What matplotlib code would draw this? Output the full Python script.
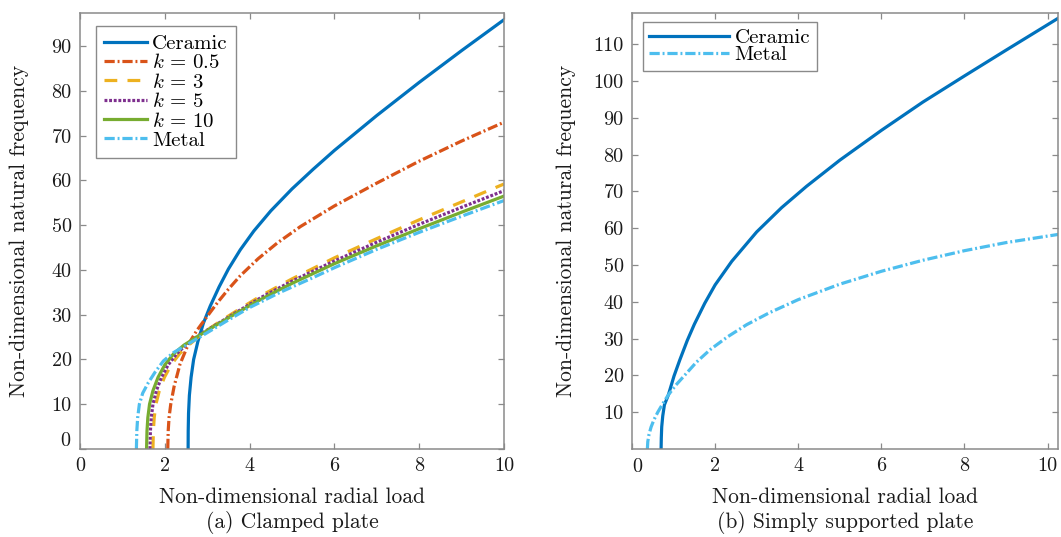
import matplotlib
matplotlib.use('Agg')
import matplotlib.pyplot as plt

plt.rcParams['font.family'] = ['cmr10', 'DejaVu Serif']
plt.rcParams['mathtext.fontset'] = 'cm'
plt.rcParams['axes.formatter.use_mathtext'] = True

# ---------------- data: (a) clamped plate ----------------
a_ceramic_x = [2.55, 2.552, 2.56, 2.58, 2.62, 2.68, 2.78, 2.91, 3.07, 3.28, 3.5, 3.78, 4.1, 4.5, 5.0, 5.5, 6.0, 7.0, 8.0, 9.0, 10.0]
a_ceramic_y = [0, 4, 8, 12, 16, 20, 24, 28.1, 31.9, 36.2, 40.2, 44.5, 48.7, 53.2, 58.1, 62.5, 66.7, 74.5, 81.9, 89.0, 95.9]

a_k05_x = [2.07, 2.08, 2.10, 2.14, 2.22, 2.36, 2.55, 2.75, 2.95, 3.25, 3.5, 3.78, 4.2, 4.65, 5.2, 6.0, 7.0, 8.0, 9.0, 10.0]
a_k05_y = [0, 4, 7, 10, 14, 19, 23.3, 26.4, 29.0, 32.8, 35.7, 38.7, 42.5, 46.0, 49.7, 54.3, 59.4, 64.3, 68.8, 73.0]

a_k3_x = [1.72, 1.73, 1.75, 1.79, 1.87, 1.99, 2.15, 2.35, 2.60, 2.90, 3.30, 3.80, 4.30, 5.00, 6.00, 7.00, 8.00, 9.00, 10.0]
a_k3_y = [0, 4, 7, 10, 13, 16, 18.8, 21.3, 23.5, 25.9, 28.5, 31.5, 34.4, 38.0, 42.7, 47.0, 51.2, 55.2, 59.2]

a_k5_x = [1.65, 1.66, 1.68, 1.72, 1.80, 1.92, 2.08, 2.28, 2.52, 2.85, 3.25, 3.75, 4.30, 5.00, 6.00, 7.00, 8.00, 9.00, 10.0]
a_k5_y = [0, 4, 7, 10, 13, 16, 18.8, 21.3, 23.4, 25.7, 28.0, 30.9, 34.0, 37.5, 42.0, 46.2, 50.2, 54.0, 57.7]

a_k10_x = [1.57, 1.58, 1.60, 1.64, 1.72, 1.84, 2.00, 2.20, 2.45, 2.80, 3.20, 3.70, 4.30, 5.00, 6.00, 7.00, 8.00, 9.00, 10.0]
a_k10_y = [0, 4, 7, 10, 13, 16, 18.8, 21.2, 23.2, 25.3, 27.6, 30.4, 33.6, 37.0, 41.4, 45.4, 49.2, 52.9, 56.5]

a_metal_x = [1.33, 1.34, 1.36, 1.40, 1.48, 1.61, 1.78, 1.97, 2.20, 2.52, 2.95, 3.46, 4.00, 4.72, 5.50, 6.00, 7.00, 8.00, 9.00, 10.0]
a_metal_y = [0, 4, 7, 10, 12.5, 14.8, 17.3, 19.7, 21.5, 23.3, 25.7, 28.6, 31.6, 35.0, 38.3, 40.5, 44.6, 48.4, 52.0, 55.5]

# ---------------- data: (b) simply supported plate ----------------
b_ceramic_x = [0.70, 0.705, 0.715, 0.74, 0.78, 0.875, 1.01, 1.15, 1.33, 1.5, 1.75, 2.0, 2.4, 3.0, 3.6, 4.2, 5.0, 6.0, 7.0, 8.0, 9.0, 10.3]
b_ceramic_y = [0, 3, 6, 9, 12, 14.7, 19.8, 24.2, 29.5, 33.9, 39.6, 44.6, 51.0, 59.0, 65.6, 71.4, 78.5, 86.6, 94.3, 101.4, 108.4, 117.4]

b_metal_x = [0.37, 0.38, 0.41, 0.46, 0.53, 0.62, 0.74, 0.875, 1.05, 1.28, 1.55, 1.88, 2.3, 2.76, 3.3, 4.0, 5.0, 6.0, 7.0, 8.0, 9.0, 10.3]
b_metal_y = [0, 2, 4, 6, 8, 10, 12.3, 14.7, 17.3, 20.2, 23.6, 27.0, 30.5, 33.8, 37.0, 40.6, 44.8, 48.3, 51.3, 53.9, 56.1, 58.4]

a_labels = ['Ceramic', r'$k\,=\,0.5$', r'$k\,=\,3$', r'$k\,=\,5$', r'$k\,=\,10$', 'Metal']
b_labels = ['Ceramic', 'Metal']
a_xticks = [0, 2, 4, 6, 8, 10]
a_yticks = [0, 10, 20, 30, 40, 50, 60, 70, 80, 90]
b_xticks = [0, 2, 4, 6, 8, 10]
b_yticks = [10, 20, 30, 40, 50, 60, 70, 80, 90, 100, 110]

xlabel = 'Non-dimensional radial load'
ylabel = 'Non-dimensional natural frequency'
cap_a = '(a) Clamped plate'
cap_b = '(b) Simply supported plate'

# ---------------- styling ----------------
C_CER = '#0072BD'
C_K05 = '#D95319'
C_K3 = '#EDB120'
C_K5 = '#7E2F8E'
C_K10 = '#77AC30'
C_MET = '#4DBEEE'
LW = 2.3
FS_TICK = 14.5
FS_LEG = 15
FS_LAB = 15.5
GRAY = '#8a8a8a'
TXT = '#1a1a1a'

W, H = 1061, 537
fig = plt.figure(figsize=(W / 100, H / 100), dpi=100)
axL = fig.add_axes([80 / W, 1 - 449 / H, 424 / W, 436 / H])
axR = fig.add_axes([632 / W, 1 - 449 / H, 426 / W, 436 / H])


def style(ax):
    for s in ax.spines.values():
        s.set_color(GRAY)
        s.set_linewidth(1.1)
    ax.tick_params(direction='in', length=4, width=0.9, color=GRAY,
                   labelcolor=TXT, labelsize=FS_TICK, top=True, right=True, pad=6)


dd = (3.2, 0.9, 0.6, 0.9)      # dash-dot (scaled by lw)
dsh = (4.0, 3.2)               # long dashes
dot = (0.9, 0.55)              # dotted

axL.plot(a_ceramic_x, a_ceramic_y, color=C_CER, lw=LW, label=a_labels[0])
axL.plot(a_k05_x, a_k05_y, color=C_K05, lw=LW, dashes=dd, label=a_labels[1])
axL.plot(a_k3_x, a_k3_y, color=C_K3, lw=LW, dashes=dsh, label=a_labels[2])
axL.plot(a_k5_x, a_k5_y, color=C_K5, lw=LW, dashes=dot, label=a_labels[3])
axL.plot(a_k10_x, a_k10_y, color=C_K10, lw=LW, label=a_labels[4])
axL.plot(a_metal_x, a_metal_y, color=C_MET, lw=LW, dashes=dd, label=a_labels[5])

axL.set_xlim(0, 10)
axL.set_ylim(0, 97.4)
axL.set_xticks(a_xticks)
axL.set_xticklabels([str(v) for v in a_xticks])
axL.set_yticks(a_yticks)
axL.set_yticklabels([''] + [str(v) for v in a_yticks[1:]])
style(axL)
axL.text(-0.022, 1.8 / 97.4, '0', transform=axL.transAxes, ha='right', va='center',
         fontsize=FS_TICK, color=TXT)
legL = axL.legend(loc='upper left', bbox_to_anchor=(16 / 424, 1 - 13 / 436), borderaxespad=0,
                  fontsize=FS_LEG, handlelength=2.05, handletextpad=0.25, labelspacing=0.02,
                  borderpad=0.4, fancybox=False, edgecolor=GRAY, framealpha=1)
legL.get_frame().set_linewidth(1.0)

axR.plot(b_ceramic_x, b_ceramic_y, color=C_CER, lw=LW, label=b_labels[0])
axR.plot(b_metal_x, b_metal_y, color=C_MET, lw=LW, dashes=dd, label=b_labels[1])
axR.set_xlim(0, 10.25)
axR.set_ylim(0, 118.5)
axR.set_xticks(b_xticks)
axR.set_xticklabels([''] + [str(v) for v in b_xticks[1:]])
axR.set_yticks(b_yticks)
axR.set_yticklabels([str(v) for v in b_yticks])
style(axR)
axR.text(5 / 426, -0.02, '0', transform=axR.transAxes, ha='center', va='top',
         fontsize=FS_TICK, color=TXT)
legR = axR.legend(loc='upper left', bbox_to_anchor=(11 / 426, 1 - 9 / 436), borderaxespad=0,
                  fontsize=FS_LEG, handlelength=3.85, handletextpad=0.25, labelspacing=-0.05,
                  borderpad=0.3, fancybox=False, edgecolor=GRAY, framealpha=1)
legR.get_frame().set_linewidth(1.0)

for ax, cap in ((axL, cap_a), (axR, cap_b)):
    ax.text(0.5, -(497 - 449) / 436, xlabel, transform=ax.transAxes, ha='center', va='center',
            fontsize=FS_LAB, color=TXT)
    ax.text(0.5, -(522 - 449) / 436, cap, transform=ax.transAxes, ha='center', va='center',
            fontsize=FS_LAB, color=TXT)

fig.text(19 / W, 1 - 231 / H, ylabel, rotation=90, ha='center', va='center', fontsize=FS_LAB, color=TXT)
fig.text(566 / W, 1 - 231 / H, ylabel, rotation=90, ha='center', va='center', fontsize=FS_LAB, color=TXT)

fig.savefig('out.png', dpi=100)
